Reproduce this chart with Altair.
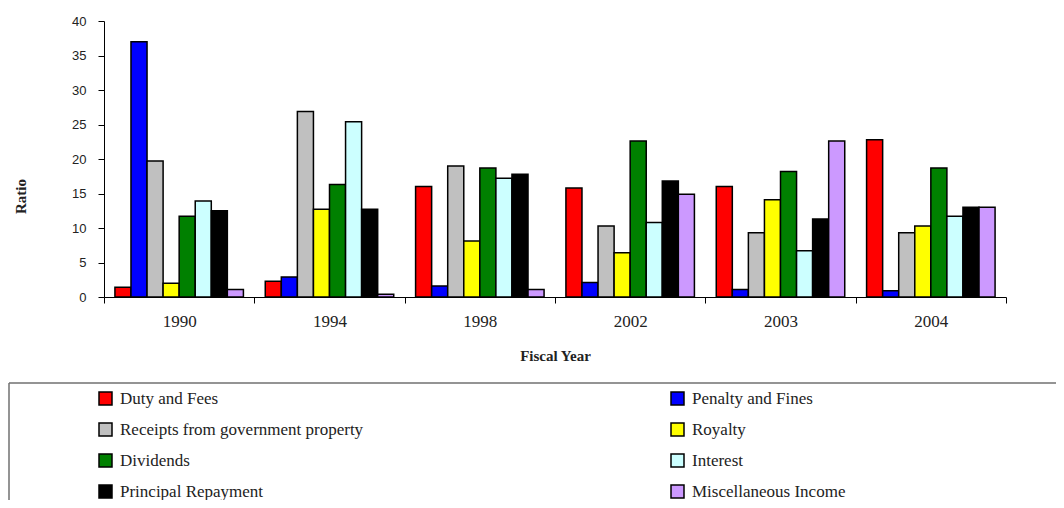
import altair as alt
import pandas as pd

years = ["1990", "1994", "1998", "2002", "2003", "2004"]
series = ["Duty and Fees", "Penalty and Fines", "Receipts from government property",
          "Royalty", "Dividends", "Interest", "Principal Repayment", "Miscellaneous Income"]
colors = ["#FF0000", "#0000FF", "#C0C0C0", "#FFFF00", "#008000", "#CCFFFF", "#000000", "#CC99FF"]

duty = [1.4, 2.3, 16.0, 15.8, 16.0, 22.8]
penalty = [37.0, 2.9, 1.6, 2.1, 1.1, 0.9]
receipts = [19.7, 26.9, 19.0, 10.3, 9.3, 9.3]
royalty = [2.0, 12.7, 8.1, 6.4, 14.1, 10.3]
dividends = [11.7, 16.3, 18.7, 22.6, 18.2, 18.7]
interest = [13.9, 25.4, 17.2, 10.8, 6.7, 11.7]
principal = [12.5, 12.7, 17.8, 16.8, 11.3, 13.0]
misc = [1.1, 0.4, 1.1, 14.9, 22.6, 13.0]

values = [duty, penalty, receipts, royalty, dividends, interest, principal, misc]
rows = []
for s, vals in zip(series, values):
    for y, v in zip(years, vals):
        rows.append({"year": y, "series": s, "ratio": v})
df = pd.DataFrame(rows)

bars = alt.Chart(df).mark_bar(stroke="black", strokeWidth=1.5).encode(
    x=alt.X("year:N", sort=years, scale=alt.Scale(paddingInner=0, paddingOuter=0),
            axis=alt.Axis(title="Fiscal Year", labelAngle=0, tickBand="extent",
                          labelFont="Liberation Serif", labelFontSize=17, labelColor="#222",
                          labelPadding=10, tickSize=6, tickColor="black", domainColor="black",
                          titleFont="Liberation Serif", titleFontSize=15, titleFontWeight="bold",
                          titleColor="#222", titleBaseline="middle", titleY=58)),
    xOffset=alt.XOffset("series:N", sort=series,
                        scale=alt.Scale(paddingOuter=0.68, paddingInner=0)),
    y=alt.Y("ratio:Q", scale=alt.Scale(domain=[0, 40]),
            axis=alt.Axis(title="Ratio", values=list(range(0, 41, 5)), grid=False,
                          labelFont="Liberation Sans", labelFontSize=13, labelColor="#222",
                          labelPadding=12, tickSize=6, tickColor="black", domainColor="black",
                          titleFont="Liberation Serif", titleFontSize=15, titleFontWeight="bold",
                          titleColor="#222", titleAngle=-90, titleBaseline="middle",
                          titleAlign="center", titleX=-84, titleY=175)),
    color=alt.Color("series:N", sort=series,
                    scale=alt.Scale(domain=series, range=colors),
                    legend=alt.Legend(title=None, orient="none", legendX=-7, legendY=369,
                                      direction="horizontal",
                                      columns=2, columnPadding=304, rowPadding=12,
                                      symbolType="square", symbolSize=169,
                                      symbolStrokeColor="black", symbolStrokeWidth=1.5,
                                      symbolOpacity=1,
                                      labelFont="Liberation Serif", labelFontSize=17,
                                      labelColor="#222", labelOffset=6, labelLimit=500)),
)

box_top = alt.Chart(pd.DataFrame({"k": [0]})).mark_rule(color="#707070", strokeWidth=1.5).encode(
    x=alt.value(-95), x2=alt.value(960), y=alt.value(362)
)
box_left = alt.Chart(pd.DataFrame({"k": [0]})).mark_rule(color="#707070", strokeWidth=1.5).encode(
    x=alt.value(-95), y=alt.value(362), y2=alt.value(480)
)

chart = alt.layer(bars, box_top, box_left).properties(
    width=902, height=276,
    autosize=alt.AutoSizeParams(type="none"),
    padding={"left": 96, "top": 13, "right": 50, "bottom": 203},
).configure_view(stroke=None)

chart.save("out.html", embed_options={"renderer": "svg", "actions": False})
